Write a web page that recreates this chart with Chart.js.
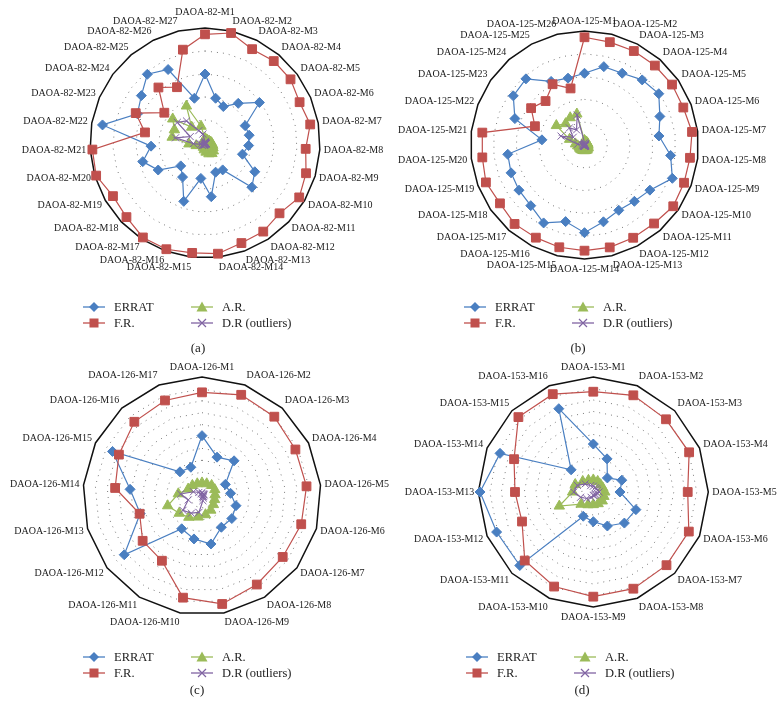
<!DOCTYPE html>
<html>
<head>
<meta charset="utf-8">
<script src="https://cdn.jsdelivr.net/npm/chart.js"></script>
<style>
  html, body { margin: 0; padding: 0; background: #fff; }
  #page { position: relative; width: 782px; height: 723px; overflow: hidden; font-family: "Liberation Serif", serif; color: #222; }
  #page canvas { position: absolute; left: 0; top: 0; }
  .leg { position: absolute; font-size: 12.5px; line-height: 14px; white-space: nowrap; }
  .leg svg { position: absolute; left: 0; top: -6px; }
  .leg span { position: absolute; left: 31px; top: -7px; }
  .cap { position: absolute; font-size: 13px; transform: translateX(-50%); }
</style>
</head>
<body>
<div id="page">
  <canvas id="chartA" width="782" height="723"></canvas>
  <canvas id="chartB" width="782" height="723"></canvas>
  <canvas id="chartC" width="782" height="723"></canvas>
  <canvas id="chartD" width="782" height="723"></canvas>
</div>
<script>
// 카테고리 이름
function makeLabels(prefix, count) {
  const out = [];
  for (let i = 1; i <= count; i++) out.push(prefix + "-M" + i);
  return out;
}
const labels82 = makeLabels("DAOA-82", 27);
const labels125 = makeLabels("DAOA-125", 26);
const labels126 = makeLabels("DAOA-126", 17);
const labels153 = makeLabels("DAOA-153", 16);

// (a) DAOA-82
const errat82 = [60, 40, 35.5, 45, 59, 38, 39, 38, 34, 50, 56, 28, 27, 47, 31, 54, 35.5, 29, 47, 56.5, 47, 90.5, 64, 69, 78, 71.5, 40];
const fr82 = [94.5, 98.3, 91.3, 93, 92.7, 89.6, 92.9, 87.7, 91.7, 94.6, 89.1, 92.2, 92.6, 96.9, 96.2, 98.3, 98.3, 93.9, 92.4, 98.8, 98.1, 53, 65.6, 44.1, 63, 54.3, 83.4];
const ar82 = [4, 3, 3, 3, 3, 4, 5, 6, 7, 8, 10, 11, 10, 8, 6, 4, 3, 3, 4, 8, 14, 29, 29, 35, 18, 36, 15];
const dr82 = [1, 1, 0.5, 0.5, 0.5, 0.5, 0.5, 0.5, 1, 1, 1, 1, 1, 1, 1.5, 2, 2, 3, 3, 4, 10, 26, 14, 30, 25, 12, 8];

// (b) DAOA-125
const errat125 = [62.9, 70.8, 71.1, 76.3, 79.2, 70.7, 65.8, 76.1, 82.4, 69.7, 66, 64.7, 69.4, 76.9, 69.2, 77.2, 71.1, 69.8, 68.9, 67.8, 37.6, 65.3, 75.9, 77.5, 63, 60.4];
const fr125 = [94.5, 92.9, 93.1, 93.1, 93.3, 92.7, 95, 93.2, 93.4, 94.6, 92, 91.9, 92.5, 92.7, 92.4, 91.8, 92.5, 90.1, 92.5, 90.3, 90.3, 46.5, 56.9, 51.5, 60.2, 51.1];
const ar125 = [4, 3, 3, 3, 3, 3, 3, 3, 3, 4, 4, 5, 5, 5, 5, 5, 5, 5, 5, 6, 8, 14, 30, 25, 27, 28];
const dr125 = [2, 1, 1, 0.5, 0.5, 0.5, 0.5, 0.5, 1, 1, 1, 1, 1, 1, 1, 1, 1, 1, 1, 2, 6, 22, 12, 20, 15, 27];

// (c) DAOA-126
const errat126 = [50.7, 35, 40, 21.9, 24.1, 29.7, 31.4, 30.9, 41, 36.7, 32.4, 81.9, 54, 60.7, 84, 27.5, 25.9];
const fr126 = [87.1, 91.2, 90.2, 87.7, 88.2, 86.7, 85, 87.5, 92.3, 86.9, 64, 62.5, 54.5, 73.3, 78, 84.4, 86.1];
const ar126 = [11, 11, 12, 12, 11, 11, 12, 14, 16, 18, 21, 24, 30, 20, 13, 12, 11];
const dr126 = [3, 2, 2, 2, 1, 1, 1, 2, 4, 14, 17, 20, 12, 18, 8, 4, 2];

// (d) DAOA-153
const errat153 = [41.7, 31.2, 17.3, 26.8, 23.2, 40.1, 38.2, 32, 25.8, 22.8, 90.4, 91, 98.5, 87.8, 27.3, 78.4];
const fr153 = [87.2, 91, 89.4, 90.2, 82.1, 89.9, 90, 91, 91, 89, 84.3, 67.1, 68.1, 74.6, 92.1, 92.1];
const ar153 = [10.5, 10, 9, 9, 10, 10, 11, 11, 11, 12, 15, 32, 18, 17, 13, 11];
const dr153 = [5, 4, 4, 4, 5, 4, 3, 3, 3, 5, 8, 12, 17, 15, 10, 6];

const BLUE = "#4a7fc1";
const RED = "#c0504d";
const GREEN = "#9bbb59";
const PURPLE = "#8064a2";
const LABEL_FONT = 10;

function series(label, data, color, style, radius, order) {
  return {
    label: label,
    data: data,
    borderColor: color,
    backgroundColor: color,
    pointBackgroundColor: color,
    pointBorderColor: color,
    pointStyle: style,
    pointRadius: radius,
    pointBorderWidth: 1,
    borderWidth: 1.2,
    fill: false,
    tension: 0,
    order: order,
  };
}

// 엑셀처럼 라벨 위치 재배치 (옆쪽 라벨은 세로 가운데 정렬)
function placeLabels(scale, labels, cx, cy, radius, topExtra) {
  const items = scale._pointLabelItems;
  if (!items) return;
  const n = labels.length;
  const ctx = scale.ctx;
  ctx.save();
  ctx.font = LABEL_FONT + "px 'Liberation Serif'";
  const h = LABEL_FONT * 1.2;
  for (let i = 0; i < n; i++) {
    const item = items[i];
    const a = -Math.PI / 2 + (i * 2 * Math.PI) / n;
    const d = radius + 4 + (i === 0 ? topExtra : 0);
    const ax = cx + Math.cos(a) * d;
    const ay = cy + Math.sin(a) * d;
    const c = Math.cos(a);
    const align = c > 0.05 ? "left" : c < -0.05 ? "right" : "center";
    const w = ctx.measureText(labels[i]).width;
    const top = ay + (h / 2) * Math.sin(a) - h / 2;
    const left = align === "left" ? ax : align === "right" ? ax - w : ax - w / 2;
    item.x = ax;
    item.y = top;
    item.textAlign = align;
    item.left = left;
    item.right = left + w;
    item.top = top;
    item.bottom = top + h;
  }
  ctx.restore();
}

// 레이더 차트 생성 (중심과 반지름은 그림에 맞춰 고정)
function makeRadar(id, labels, errat, fr, ar, dr, cx, cy, radius, step, topExtra) {
  const ctx = document.getElementById(id).getContext("2d");
  return new Chart(ctx, {
    type: "radar",
    data: {
      labels: labels,
      datasets: [
        series("ERRAT", errat, BLUE, "rectRot", 5, 4),
        series("F.R.", fr, RED, "rect", 6.2, 3),
        series("A.R.", ar, GREEN, "triangle", 6, 2),
        series("D.R (outliers)", dr, PURPLE, "crossRot", 5, 1),
      ],
    },
    options: {
      responsive: false,
      animation: false,
      layout: { padding: 0 },
      plugins: { legend: { display: false }, tooltip: { enabled: false } },
      scales: {
        r: {
          min: 0,
          max: 100,
          ticks: { display: false, stepSize: step },
          angleLines: { display: false },
          grid: {
            color: (c) => (c.tick && c.tick.value === 100 ? "#111" : "#7a7a7a"),
            lineWidth: (c) => (c.tick && c.tick.value === 100 ? 1.5 : 1),
          },
          border: {
            dash: (c) => (c.tick && c.tick.value === 100 ? [] : [1, 5]),
          },
          pointLabels: {
            font: { family: "Liberation Serif", size: LABEL_FONT },
            color: "#1a1a1a",
            padding: 4,
          },
          afterFit: (scale) => {
            const box = { left: scale.left, right: scale.right, top: scale.top, bottom: scale.bottom };
            scale.left = -4000;
            scale.right = 4000;
            scale.top = -4000;
            scale.bottom = 4000;
            scale.xCenter = cx;
            scale.yCenter = cy;
            scale.drawingArea = radius;
            scale.fit();
            Object.assign(scale, box);
            placeLabels(scale, labels, cx, cy, radius, topExtra);
          },
        },
      },
    },
  });
}

makeRadar("chartA", labels82, errat82, fr82, ar82, dr82, 205, 143, 115, 20, 6);
makeRadar("chartB", labels125, errat125, fr125, ar125, dr125, 584.5, 145, 114, 20, 0);
makeRadar("chartC", labels126, errat126, fr126, ar126, dr126, 202, 496, 119, 10, 0);
makeRadar("chartD", labels153, errat153, fr153, ar153, dr153, 593.3, 492, 115, 10, 0);

// 범례 마커 (svg)
const markers = {
  ERRAT: `<line x1="0" y1="6" x2="22" y2="6" stroke="${BLUE}" stroke-width="1.3"/><polygon points="11,1 16,6 11,11 6,6" fill="${BLUE}"/>`,
  FR: `<line x1="0" y1="6" x2="22" y2="6" stroke="${RED}" stroke-width="1.3"/><rect x="6.5" y="1.5" width="9" height="9" fill="${RED}"/>`,
  AR: `<line x1="0" y1="6" x2="22" y2="6" stroke="${GREEN}" stroke-width="1.3"/><polygon points="11,0.5 16.5,10.5 5.5,10.5" fill="${GREEN}"/>`,
  DR: `<line x1="0" y1="6" x2="22" y2="6" stroke="${PURPLE}" stroke-width="1.3"/><path d="M7,2 L15,10 M15,2 L7,10" stroke="${PURPLE}" stroke-width="1.2"/>`,
};

function addLegend(x, y, caption, capX, capY) {
  const page = document.getElementById("page");
  const items = [
    ["ERRAT", markers.ERRAT, 0, 0],
    ["F.R.", markers.FR, 0, 16],
    ["A.R.", markers.AR, 108, 0],
    ["D.R (outliers)", markers.DR, 108, 16],
  ];
  items.forEach(([text, svg, dx, dy]) => {
    const div = document.createElement("div");
    div.className = "leg";
    div.style.left = x + dx + "px";
    div.style.top = y + dy + "px";
    div.innerHTML = `<svg width="23" height="12">${svg}</svg><span>${text}</span>`;
    page.appendChild(div);
  });
  const cap = document.createElement("div");
  cap.className = "cap";
  cap.style.left = capX + "px";
  cap.style.top = capY + "px";
  cap.textContent = caption;
  page.appendChild(cap);
}

addLegend(83, 307, "(a)", 198, 340);
addLegend(464, 307, "(b)", 578, 340);
addLegend(83, 657, "(c)", 197, 682);
addLegend(466, 657, "(d)", 582, 682);
</script>
</body>
</html>
